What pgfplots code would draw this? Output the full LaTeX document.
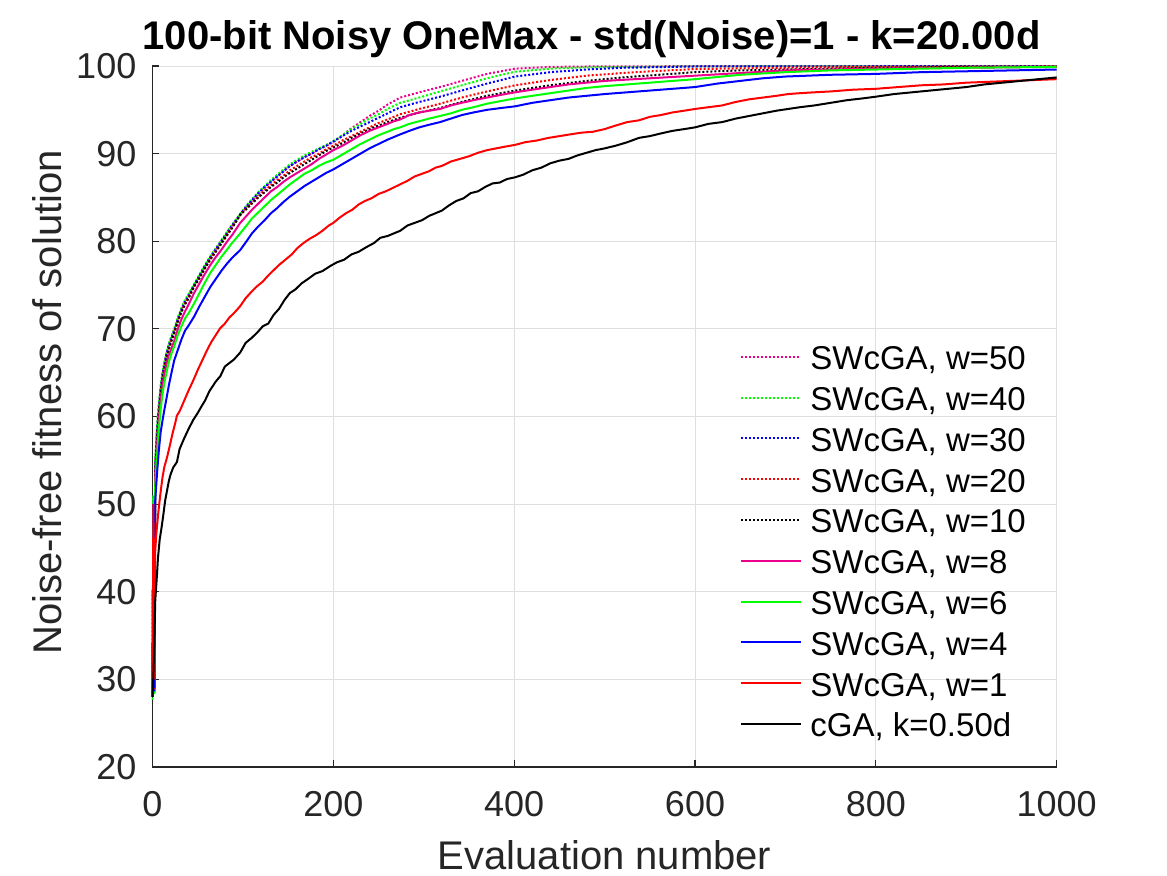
\documentclass[border=0pt]{standalone}
\usepackage{pgfplots}
\pgfplotsset{compat=1.18}
\usepackage{fontspec}
\setmainfont{Liberation Sans}
\definecolor{axisgray}{HTML}{262626}
\definecolor{gridgray}{HTML}{DFDFDF}
\begin{document}
\begin{tikzpicture}
\path[use as bounding box] (0,0) rectangle (583.5pt,437.5pt);
\begin{axis}[
  at={(76.25pt,54pt)}, anchor=south west,
  scale only axis, width=452.1pt, height=350.5pt,
  xmin=0, xmax=1000, ymin=20, ymax=100,
  xtick={0,200,400,600,800,1000},
  ytick={20,30,40,50,60,70,80,90,100},
  axis x line*=bottom, axis y line*=left,
  axis line style={line width=0.6pt, draw=axisgray, -},
  tick align=inside, major tick length=3.5pt,
  tick style={line width=0.6pt, draw=axisgray},
  grid=major, grid style={line width=0.5pt, draw=gridgray},
  /pgf/number format/assume math mode=true,
  /pgf/number format/1000 sep={},
  ticklabel style={font=\fontsize{18}{21}\selectfont, text=axisgray},
  xticklabel style={anchor=north, inner sep=0pt, yshift=-12pt},
  yticklabel style={anchor=east, inner sep=0pt, xshift=-7.9pt},
  title={100-bit Noisy OneMax - std(Noise)=1 - k=20.00d},
  title style={at={(axis description cs:0.4857,1.0238)}, anchor=base, yshift=-6pt, font=\fontsize{20}{24}\selectfont\bfseries, text=black},
  xlabel={Evaluation number},
  xlabel style={at={(axis description cs:0.5,-0.1462)}, anchor=base, font=\fontsize{20}{24}\selectfont, text=axisgray},
  ylabel={Noise-free fitness of solution},
  ylabel style={at={(axis description cs:-0.1004,0.52)}, anchor=base, font=\fontsize{20}{24}\selectfont, text=axisgray},
  clip=false,
  legend cell align=left,
  legend style={at={(0.6497,0.615)}, anchor=north west, draw=none, fill=none, inner sep=0pt,
    row sep=0pt, column sep=4pt,
    font=\fontsize{16.5}{19}\selectfont,
    nodes={inner sep=0pt, text height=16.7pt, text depth=3.7pt}},
  legend image code/.code={\draw[#1] (0pt,0pt) -- (30pt,0pt);},
  every axis plot/.append style={line width=1pt},
  dotline/.style={dash pattern=on 1pt off 1pt},
]
% w=50
\addplot[color=magenta, dotline] coordinates {(0,28)(1,50.5)(2,28.5)(3,54.5)(5,58.5)(7,61.2)(9,63.3)(11,64.9)(13,66)(15,67)(18,68.2)(21,69.1)(24,69.9)(28,71.2)(32,72.3)(36,73.2)(40,73.9)(46,75)(52,76.1)(58,77.2)(64,78.2)(70,79.1)(76,80)(82,80.9)(88,81.8)(97,83.0)(104,83.9)(110,84.6)(117,85.4)(124,86.1)(131,86.8)(138,87.4)(145,88.0)(152,88.6)(160,89.1)(168,89.6)(176,90.0)(184,90.5)(192,90.9)(200,91.3)(210,92.1)(220,92.9)(230,93.6)(240,94.3)(250,94.9)(260,95.6)(274,96.4)(295,97.0)(318,97.6)(342,98.3)(370,99.1)(401,99.7)(440,99.9)(500,99.97)(1000,100)};
\addlegendentry{SWcGA, w=50}
% w=40
\addplot[color=green, dotline] coordinates {(0,27.7)(1,50.8)(2,28.3)(3,55)(5,59)(7,61.5)(9,63.5)(11,65)(13,66.1)(15,67.1)(18,68.3)(21,69.2)(24,70)(28,71.3)(32,72.4)(36,73.3)(40,74)(46,75.1)(52,76.2)(58,77.3)(64,78.3)(70,79.2)(76,80.1)(82,81)(88,81.9)(97,83.1)(104,84.1)(110,84.8)(117,85.6)(124,86.3)(131,87)(138,87.6)(145,88.2)(152,88.8)(160,89.3)(168,89.8)(176,90.2)(184,90.6)(192,91.0)(200,91.4)(210,92.1)(220,92.8)(230,93.4)(240,94.0)(250,94.5)(260,95.1)(274,95.8)(295,96.4)(318,97.1)(342,97.8)(370,98.6)(401,99.35)(440,99.7)(480,99.85)(600,99.97)(1000,100)};
\addlegendentry{SWcGA, w=40}
% w=30
\addplot[color=blue, dotline] coordinates {(0,28)(1,50.2)(2,28.6)(3,54.5)(5,58.5)(7,61)(9,63.2)(11,64.8)(13,65.9)(15,66.9)(18,68.1)(21,69)(24,69.8)(28,71.1)(32,72.2)(36,73.1)(40,73.8)(46,75)(52,76.1)(58,77.2)(64,78.2)(70,79.1)(76,80)(82,80.9)(88,81.8)(97,83.1)(104,84)(110,84.7)(117,85.5)(124,86.2)(131,86.8)(138,87.4)(145,88)(152,88.6)(160,89.1)(168,89.6)(176,90)(184,90.5)(192,90.9)(200,91.4)(210,92.0)(220,92.6)(230,93.1)(240,93.6)(250,94.1)(260,94.6)(274,95.3)(295,95.9)(318,96.5)(342,97.2)(370,98.0)(401,98.8)(440,99.3)(480,99.6)(520,99.8)(600,99.95)(1000,100)};
\addlegendentry{SWcGA, w=30}
% w=20
\addplot[color=red, dotline] coordinates {(0,28.2)(1,50.1)(2,28.8)(3,54)(5,58)(7,60.6)(9,62.8)(11,64.5)(13,65.6)(15,66.6)(18,67.8)(21,68.8)(24,69.6)(28,70.9)(32,72)(36,72.9)(40,73.6)(46,74.9)(52,75.9)(58,77)(64,78)(70,78.9)(76,79.8)(82,80.7)(88,81.6)(97,83.0)(104,83.8)(110,84.4)(117,85.1)(124,85.8)(131,86.4)(138,87)(145,87.5)(152,88.1)(160,88.6)(168,89.1)(176,89.6)(184,90.0)(192,90.5)(200,90.9)(210,91.5)(220,92.0)(230,92.5)(240,93.0)(250,93.5)(260,93.9)(274,94.5)(295,95.1)(318,95.7)(342,96.4)(370,97.1)(401,97.8)(440,98.4)(480,98.9)(520,99.2)(560,99.45)(600,99.65)(700,99.8)(800,99.9)(1000,99.95)};
\addlegendentry{SWcGA, w=20}
% w=10
\addplot[color=black, dotline] coordinates {(0,28.1)(1,50)(2,29)(3,53.5)(5,57.5)(7,60.3)(9,62.5)(11,64.2)(13,65.4)(15,66.4)(18,67.6)(21,68.6)(24,69.5)(28,70.8)(32,71.9)(36,72.8)(40,73.5)(46,74.8)(52,75.8)(58,76.9)(64,77.9)(70,78.8)(76,79.7)(82,80.6)(88,81.5)(97,83.0)(104,83.7)(110,84.3)(117,85)(124,85.6)(131,86.2)(138,86.7)(145,87.3)(152,87.8)(160,88.3)(168,88.8)(176,89.3)(184,89.8)(192,90.3)(200,90.7)(210,91.2)(220,91.8)(230,92.3)(240,92.8)(250,93.2)(260,93.6)(274,94.1)(295,94.7)(318,95.2)(342,95.9)(370,96.6)(401,97.2)(440,97.8)(480,98.3)(520,98.7)(560,99.0)(600,99.3)(650,99.5)(700,99.6)(800,99.8)(900,99.9)(1000,99.9)};
\addlegendentry{SWcGA, w=10}
% w=8
\addplot[color=magenta] coordinates {(0,28)(1,50)(2,29)(3,53)(5,56.5)(7,59.5)(9,61.8)(11,63.5)(13,64.8)(15,65.8)(18,67)(21,67.8)(24,68.6)(28,70)(32,71.1)(36,72)(40,72.8)(46,74.1)(52,75.2)(58,76.3)(64,77.3)(70,78.2)(76,79)(82,79.9)(88,80.7)(97,82.1)(104,82.9)(110,83.6)(117,84.3)(124,85)(131,85.7)(138,86.2)(145,86.8)(152,87.3)(160,87.8)(168,88.3)(176,88.8)(184,89.4)(192,89.9)(200,90.4)(210,90.9)(220,91.5)(230,92.1)(240,92.6)(250,93)(260,93.4)(267,93.7)(274,93.9)(284,94.4)(295,94.7)(306,94.9)(318,95.1)(330,95.5)(342,95.8)(355,96.1)(370,96.4)(385,96.7)(401,97.0)(420,97.3)(440,97.6)(460,97.9)(480,98.1)(500,98.3)(550,98.6)(600,98.9)(650,99.2)(700,99.5)(800,99.7)(900,99.8)(1000,99.9)};
\addlegendentry{SWcGA, w=8}
% w=6
\addplot[color=green] coordinates {(0,28)(1,51)(2,29)(3,52)(5,55.5)(7,58.5)(9,60.8)(11,62.5)(13,63.8)(15,64.8)(18,66.2)(21,67.2)(24,68)(28,69.3)(32,70.3)(36,71.2)(40,71.8)(46,72.9)(52,74.1)(58,75.3)(64,76.4)(70,77.3)(76,78.2)(82,79)(88,79.8)(97,80.9)(104,81.8)(110,82.6)(117,83.3)(124,84)(131,84.7)(138,85.3)(145,85.9)(152,86.5)(160,87.1)(168,87.7)(176,88.1)(184,88.6)(192,89)(200,89.3)(210,89.9)(220,90.5)(230,91.1)(240,91.6)(250,92.1)(260,92.5)(267,92.8)(274,93.0)(284,93.4)(295,93.7)(306,94.0)(318,94.3)(330,94.6)(342,95.0)(355,95.3)(370,95.7)(385,96.0)(401,96.3)(420,96.6)(440,96.9)(460,97.2)(480,97.5)(500,97.7)(525,97.9)(550,98.1)(575,98.3)(600,98.5)(650,99.0)(700,99.3)(750,99.5)(800,99.6)(900,99.8)(1000,99.9)};
\addlegendentry{SWcGA, w=6}
% w=4
\addplot[color=blue] coordinates {(0,28)(1,50)(2,29)(3,50.4)(5,53.5)(7,56.1)(9,58.2)(11,59.5)(13,60.7)(15,61.8)(18,63.5)(21,65)(24,66.4)(28,67.6)(32,68.8)(36,69.8)(40,70.4)(46,71.4)(52,72.6)(58,73.7)(64,74.8)(70,75.7)(76,76.6)(82,77.4)(88,78.1)(97,79)(104,80)(110,80.9)(117,81.7)(124,82.4)(131,83.2)(138,83.8)(145,84.5)(152,85.1)(160,85.7)(168,86.3)(176,86.8)(184,87.3)(192,87.8)(200,88.2)(210,88.8)(220,89.4)(230,90.0)(240,90.6)(250,91.1)(260,91.6)(267,91.9)(274,92.2)(284,92.6)(295,93.0)(306,93.3)(318,93.6)(330,94.0)(342,94.4)(355,94.7)(370,95.0)(385,95.2)(401,95.4)(420,95.8)(440,96.1)(460,96.4)(480,96.6)(500,96.8)(525,97.0)(550,97.2)(575,97.4)(600,97.6)(625,98.0)(650,98.3)(675,98.6)(700,98.8)(725,98.9)(750,99.0)(800,99.1)(850,99.3)(900,99.4)(950,99.5)(1000,99.6)};
\addlegendentry{SWcGA, w=4}
% w=1
\addplot[color=red] coordinates {(0,28)(1,50)(2,30)(3,44.6)(4,46.3)(5,47.5)(7,49.6)(9,51.4)(11,53)(13,54.2)(16,55.3)(19,56.6)(22,58)(25,59.2)(27,60.1)(30,60.6)(35,61.8)(40,63)(45,64.1)(50,65.3)(55,66.4)(60,67.5)(65,68.5)(70,69.3)(75,70.1)(80,70.6)(85,71.3)(91,71.9)(97,72.6)(103,73.5)(110,74.3)(116,74.9)(122,75.4)(128,76.1)(134,76.7)(140,77.3)(147,77.9)(154,78.5)(160,79.2)(167,79.8)(174,80.3)(181,80.7)(188,81.2)(195,81.8)(200,82.1)(207,82.7)(214,83.2)(221,83.6)(228,84.2)(235,84.6)(242,84.9)(250,85.4)(258,85.7)(266,86.1)(274,86.5)(282,86.9)(290,87.4)(298,87.7)(306,88.0)(313,88.4)(320,88.6)(330,89.1)(340,89.4)(350,89.7)(360,90.1)(370,90.4)(380,90.6)(390,90.8)(401,91.0)(412,91.3)(425,91.5)(438,91.8)(450,92.0)(462,92.2)(475,92.4)(487,92.5)(500,92.8)(512,93.2)(525,93.6)(538,93.8)(550,94.2)(562,94.4)(575,94.7)(588,94.9)(600,95.1)(615,95.3)(630,95.5)(645,95.9)(660,96.2)(675,96.4)(690,96.6)(703,96.8)(716,96.9)(732,97.0)(750,97.1)(775,97.3)(800,97.4)(825,97.6)(850,97.8)(875,97.9)(900,98.1)(925,98.2)(950,98.3)(975,98.4)(1000,98.5)};
\addlegendentry{SWcGA, w=1}
% cGA
\addplot[color=black] coordinates {(0,28)(1,30.5)(2,34)(3,38.9)(4,40.5)(5,42)(6,43.8)(8,46)(10,47.3)(12,48.8)(14,50.4)(16,51.5)(18,52.6)(20,53.4)(23,54.2)(27,54.8)(30,56.3)(35,57.5)(40,58.6)(45,59.6)(50,60.4)(55,61.3)(58,61.8)(63,62.9)(70,64)(75,64.6)(80,65.7)(85,66.1)(90,66.5)(97,67.3)(103,68.4)(110,69)(116,69.6)(122,70.3)(128,70.6)(134,71.6)(140,72.3)(146,73.3)(152,74.1)(158,74.5)(165,75.2)(172,75.7)(180,76.3)(188,76.6)(197,77.2)(204,77.6)(212,77.9)(220,78.5)(228,78.8)(236,79.3)(245,79.8)(252,80.4)(260,80.6)(267,80.9)(274,81.2)(282,81.8)(290,82.1)(298,82.4)(306,82.9)(313,83.2)(320,83.5)(328,84.1)(336,84.6)(344,84.9)(352,85.5)(360,85.7)(368,86.2)(376,86.6)(384,86.7)(392,87.1)(401,87.3)(410,87.6)(420,88.1)(430,88.4)(440,88.9)(450,89.2)(460,89.4)(470,89.8)(480,90.1)(490,90.4)(500,90.6)(512,90.9)(525,91.3)(538,91.8)(550,92.0)(562,92.3)(575,92.6)(588,92.8)(600,93.0)(615,93.4)(630,93.6)(645,94.0)(660,94.3)(675,94.6)(690,94.9)(703,95.1)(716,95.3)(732,95.5)(750,95.8)(768,96.1)(785,96.3)(800,96.5)(820,96.8)(840,97.0)(860,97.2)(880,97.4)(900,97.6)(920,97.9)(940,98.1)(960,98.3)(980,98.5)(1000,98.7)};
\addlegendentry{cGA, k=0.50d}
\end{axis}
\end{tikzpicture}
\end{document}
